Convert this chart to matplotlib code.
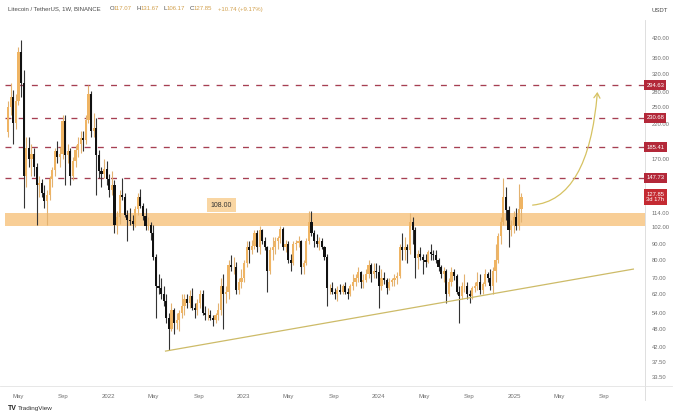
import matplotlib
matplotlib.use("Agg")
import matplotlib.pyplot as plt
import matplotlib.dates as mdates
from matplotlib.patches import FancyArrowPatch, ArrowStyle
from matplotlib.path import Path
from matplotlib.lines import Line2D
from matplotlib.ticker import NullLocator, NullFormatter
import pandas as pd

plt.rcParams['font.family'] = ['Liberation Sans', 'DejaVu Sans']

# ---------------- data ----------------
title_text = "Litecoin / TetherUS, 1W, BINANCE"
ohlc_labels = ["O", "H", "L", "C"]
ohlc_values = ["117.07", "131.67", "106.17", "127.85"]
change_text = "+10.74 (+9.17%)"

first_week = "2021-04-05"
opens = [207, 250, 270, 222, 262, 378, 300, 150, 185, 170, 176, 160, 140, 142, 132, 124, 130, 146, 156, 180,
         172, 176, 225, 175, 180, 150, 168, 182, 190, 198, 196, 228, 276, 210, 214, 175, 155, 152, 158,
         146, 135, 140, 104, 110, 130, 128, 112, 108, 107, 105, 117, 128, 120, 111, 103, 104, 98, 82, 66,
         65, 62, 59, 52, 48, 55, 50, 51, 54, 57, 60, 58, 61, 56, 55, 58, 62, 54, 53, 53, 52, 51, 53, 55,
         66, 62, 63, 77, 76, 76, 64, 68,
         70, 78, 88, 86, 89, 98, 88, 100, 92, 88, 74, 86, 88, 92, 94, 101, 88, 90, 80, 78, 90, 91, 92,
         76, 78, 92, 106, 98, 92, 90, 92, 88, 82, 65, 65, 63, 62, 64, 63, 66, 63, 62, 66, 68, 70, 73,
         68, 69, 72, 77, 72, 74,
         73, 66, 70, 69, 65, 68, 69, 70, 71, 88, 86, 88, 86, 106, 100, 81, 84, 82, 80, 79, 85, 84, 83,
         80, 76, 72, 74, 62, 68, 73, 71, 63, 61, 66, 66, 62, 61, 65, 66, 68, 64, 67, 72, 70, 66, 74, 80,
         96, 106, 128, 116, 100, 104,
         110, 103, 117.07]
highs = [262, 300, 285, 275, 390, 413, 330, 200, 200, 190, 185, 165, 150, 146, 140, 135, 150, 160, 185, 195,
         186, 236, 236, 190, 185, 172, 188, 200, 210, 210, 235, 296, 282, 240, 230, 182, 160, 170, 168,
         152, 155, 145, 115, 135, 148, 132, 116, 118, 112, 120, 132, 136, 122, 118, 110, 106, 104, 84, 72,
         70, 66, 62, 54, 58, 56, 54, 55, 62, 62, 62, 64, 65, 58, 60, 64, 64, 57, 56, 55, 53, 54, 58, 70,
         72, 66, 80, 83, 82, 79, 70, 75,
         80, 92, 92, 93, 100, 100, 103, 101, 95, 89, 88, 95, 95, 96, 103, 102, 93, 92, 84, 92, 93, 96,
         93, 80, 94, 115, 115, 100, 97, 95, 94, 89, 84, 67, 68, 65, 66, 67, 67, 68, 65, 67, 72, 72, 76,
         74, 72, 75, 80, 78, 78, 78,
         77, 75, 73, 70, 70, 70, 72, 73, 90, 98, 95, 90, 114, 110, 102, 86, 88, 84, 84, 86, 90, 86, 86,
         81, 77, 76, 75, 70, 76, 75, 72, 66, 68, 72, 68, 64, 66, 68, 73, 72, 68, 75, 73, 75, 76, 90, 98,
         110, 148, 138, 120, 108, 115,
         118, 141, 131.67]
lows = [200, 236, 190, 212, 255, 270, 118, 138, 160, 150, 150, 104, 128, 128, 118, 104, 125, 138, 150, 165,
        160, 170, 140, 165, 140, 145, 160, 172, 178, 180, 190, 222, 200, 200, 130, 148, 138, 148, 140,
        128, 130, 98, 97, 105, 125, 110, 92, 104, 100, 102, 112, 118, 108, 100, 100, 93, 80, 52, 62,
        60, 57, 50, 41, 47, 46, 48, 47, 52, 53, 56, 56, 55, 52, 53, 56, 53, 51, 51, 51, 49, 50, 51, 53,
        48, 58, 60, 74, 72, 62, 62, 65,
        68, 76, 78, 84, 87, 85, 84, 90, 86, 63, 72, 80, 84, 87, 91, 86, 85, 78, 74, 77, 86, 88, 72,
        72, 77, 90, 96, 88, 88, 86, 87, 80, 57, 62, 62, 60, 59, 62, 62, 62, 60, 61, 64, 66, 68, 65, 65,
        68, 70, 68, 70, 70,
        56, 64, 67, 62, 64, 66, 66, 67, 70, 80, 80, 78, 84, 90, 70, 75, 80, 72, 76, 78, 80, 80, 78, 74,
        70, 68, 58, 61, 66, 69, 62, 50, 60, 63, 60, 58, 60, 63, 64, 62, 62, 66, 68, 64, 62, 68, 78, 90,
        104, 108, 88, 96, 98,
        100, 100, 106.17]
closes = [250, 270, 222, 262, 378, 300, 150, 185, 170, 176, 160, 140, 142, 132, 124, 130, 146, 156, 180, 172,
          176, 225, 175, 180, 150, 168, 182, 190, 198, 196, 228, 276, 210, 214, 175, 155, 152, 158, 146,
          135, 140, 104, 110, 130, 128, 112, 108, 107, 105, 117, 128, 120, 111, 103, 104, 98, 82, 66, 65,
          62, 59, 52, 48, 55, 50, 51, 54, 57, 60, 58, 61, 56, 55, 58, 62, 54, 53, 53, 52, 51, 53, 55, 66,
          62, 63, 77, 76, 76, 64, 68, 70,
          78, 88, 86, 89, 98, 88, 100, 92, 88, 74, 86, 88, 92, 94, 101, 88, 90, 80, 78, 90, 91, 92, 76,
          78, 92, 106, 98, 92, 90, 92, 88, 82, 65, 65, 63, 62, 64, 63, 66, 63, 62, 66, 68, 70, 73, 68,
          69, 72, 77, 72, 74, 73,
          66, 70, 69, 65, 68, 69, 70, 71, 88, 86, 88, 86, 106, 100, 81, 84, 82, 80, 79, 85, 84, 83, 80,
          76, 72, 74, 62, 68, 73, 71, 63, 61, 66, 66, 62, 61, 65, 66, 68, 64, 67, 72, 70, 66, 74, 80, 96,
          106, 128, 116, 100, 104, 110,
          103, 117.07, 127.85]

resistance_levels = [294.63, 230.68, 185.41, 147.73]
zone_low, zone_high = 103.0, 114.0
zone_label = "108.00"
zone_label_date, zone_label_price = "2022-11-01", 120.5
last_price = 127.85
countdown = "3d 17h"

trend_dates = ["2022-06-04", "2025-11-18"]
trend_prices = [40.6, 74.8]
arrow_dates = ["2025-02-19", "2025-07-20", "2025-08-13"]
arrow_prices = [120.5, 125.2, 280.0]

y_ticks = [420, 360, 320, 280, 250, 220, 170, 114, 102, 90, 80, 70, 62, 54, 48, 42, 37.5, 33.5]
x_tick_dates = ["2021-05-01", "2021-09-01", "2022-01-01", "2022-05-01", "2022-09-01", "2023-01-01",
                "2023-05-01", "2023-09-01", "2024-01-01", "2024-05-01", "2024-09-01", "2025-01-01",
                "2025-05-01", "2025-09-01"]
x_tick_labels = ["May", "Sep", "2022", "May", "Sep", "2023", "May", "Sep", "2024", "May", "Sep",
                 "2025", "May", "Sep"]

# ---------------- style ----------------
W, H = 679, 419
BULL = '#efb463'
BULL_WICK = '#e3b270'
BEAR = '#111111'
BEAR_WICK = '#333333'
RED_LINE = '#a63f52'
RED_BOX = '#b32839'
ZONE = '#f8c98b'
TREND = '#cdbb68'
TXT = '#6f6f6f'

fig = plt.figure(figsize=(W / 100, H / 100), dpi=100)
fig.patch.set_facecolor('white')
ax = fig.add_axes([0, (H - 386) / H, 645 / W, (386 - 20) / H])
ax.set_yscale('log')

px_per_day = 0.3704
ref = mdates.date2num(pd.Timestamp("2022-01-01"))
x0 = ref - 108.5 / px_per_day
x1 = x0 + 645 / px_per_day
ax.set_xlim(x0, x1)
ax.set_ylim(31.3, 478.7)

dates = pd.date_range(first_week, periods=len(closes), freq='7D')
xs = mdates.date2num(dates)

for xi, o, h, l, c in zip(xs, opens, highs, lows, closes):
    up = c >= o
    ax.vlines(xi, l, h, color=BULL_WICK if up else BEAR_WICK, lw=0.8, zorder=3)
    lo, hi = min(o, c), max(o, c)
    ax.bar(xi, hi - lo, bottom=lo, width=5.8, color=BULL if up else BEAR,
           edgecolor='none', zorder=4)

# zone
ax.axhspan(zone_low, zone_high, xmin=5 / 645, xmax=1, facecolor=ZONE, edgecolor='none',
           alpha=0.9, zorder=2)
ax.text(mdates.date2num(pd.Timestamp(zone_label_date)), zone_label_price, zone_label,
        fontsize=5, color='#333333', ha='center', va='center', zorder=6,
        bbox=dict(boxstyle='square,pad=0.55', fc='#f9d6a3', ec='none'))

# resistance lines
for lvl in resistance_levels:
    ax.hlines(lvl, x0 + 5 / px_per_day, x1, colors=RED_LINE, lw=0.95,
              linestyles=(0, (4.5, 5.5)), zorder=2)
    ax.text(1.002, lvl, f"{lvl:.2f}", transform=ax.get_yaxis_transform(), fontsize=4.2,
            color='white', ha='left', va='center', clip_on=False, zorder=10,
            bbox=dict(boxstyle='square,pad=0.4', fc=RED_BOX, ec='none'))
ax.text(1.002, last_price, f"{last_price:.2f}\n{countdown}", transform=ax.get_yaxis_transform(),
        fontsize=4.2, color='white', ha='left', va='center', linespacing=1.05, clip_on=False,
        zorder=10, bbox=dict(boxstyle='square,pad=0.45', fc='#c42a32', ec='none'))

# trend line
ax.plot(mdates.date2num(pd.to_datetime(trend_dates)), trend_prices, color=TREND, lw=0.9, zorder=5)

# curved arrow
ax_x = mdates.date2num(pd.to_datetime(arrow_dates))
path = Path(list(zip(ax_x, arrow_prices)), [Path.MOVETO, Path.CURVE3, Path.CURVE3])
arr = FancyArrowPatch(path=path, arrowstyle=ArrowStyle('->', head_length=3.5, head_width=2.2),
                      color='#d6c262', lw=0.9, transform=ax.transData, zorder=6)
ax.add_patch(arr)

# axes styling
for s in ['top', 'left']:
    ax.spines[s].set_visible(False)
ax.spines['right'].set_color('#d9d9d9')
ax.spines['right'].set_linewidth(0.6)
ax.spines['bottom'].set_color('#e3e3e3')
ax.spines['bottom'].set_linewidth(0.6)

ax.yaxis.tick_right()
ax.set_yticks(y_ticks)
ax.set_yticklabels([f"{v:.2f}" for v in y_ticks])
ax.yaxis.set_minor_locator(NullLocator())
ax.yaxis.set_minor_formatter(NullFormatter())
ax.tick_params(axis='y', length=0, pad=5, labelsize=4.2, labelcolor=TXT)

ax.set_xticks(mdates.date2num(pd.to_datetime(x_tick_dates)))
ax.set_xticklabels(x_tick_labels)
ax.tick_params(axis='x', length=0, pad=6, labelsize=4.3, labelcolor=TXT)

# extra frame lines
fig.add_artist(Line2D([645 / W, 645 / W], [1 - 386 / H, 1 - 400 / H], transform=fig.transFigure,
                      color='#d9d9d9', lw=0.6))
fig.add_artist(Line2D([645 / W, 672 / W], [1 - 386 / H, 1 - 386 / H], transform=fig.transFigure,
                      color='#e3e3e3', lw=0.6))

# header
def ftxt(px, py, s, **kw):
    fig.text(px / W, 1 - py / H, s, va='center', ha='left', **kw)

ftxt(8, 9, title_text, fontsize=4.3, color='#4a4a4a')
lab_x = [110, 136.5, 163.5, 190]
val_x = [114, 140.5, 166.5, 194]
for lx, vx, lab, val in zip(lab_x, val_x, ohlc_labels, ohlc_values):
    ftxt(lx, 9, lab, fontsize=4.3, color='#4a4a4a')
    ftxt(vx, 9, val, fontsize=4.3, color='#d2a04c')
ftxt(218, 9, change_text, fontsize=4.3, color='#d2a04c')

ftxt(651, 10, "USDT", fontsize=4.3, color='#4a4a4a')

ftxt(8, 408, "TV", fontsize=5, color='#222222', fontweight='bold')
ftxt(18, 408, "TradingView", fontsize=4.6, color='#333333')

fig.savefig("out.png", dpi=100, facecolor='white')
